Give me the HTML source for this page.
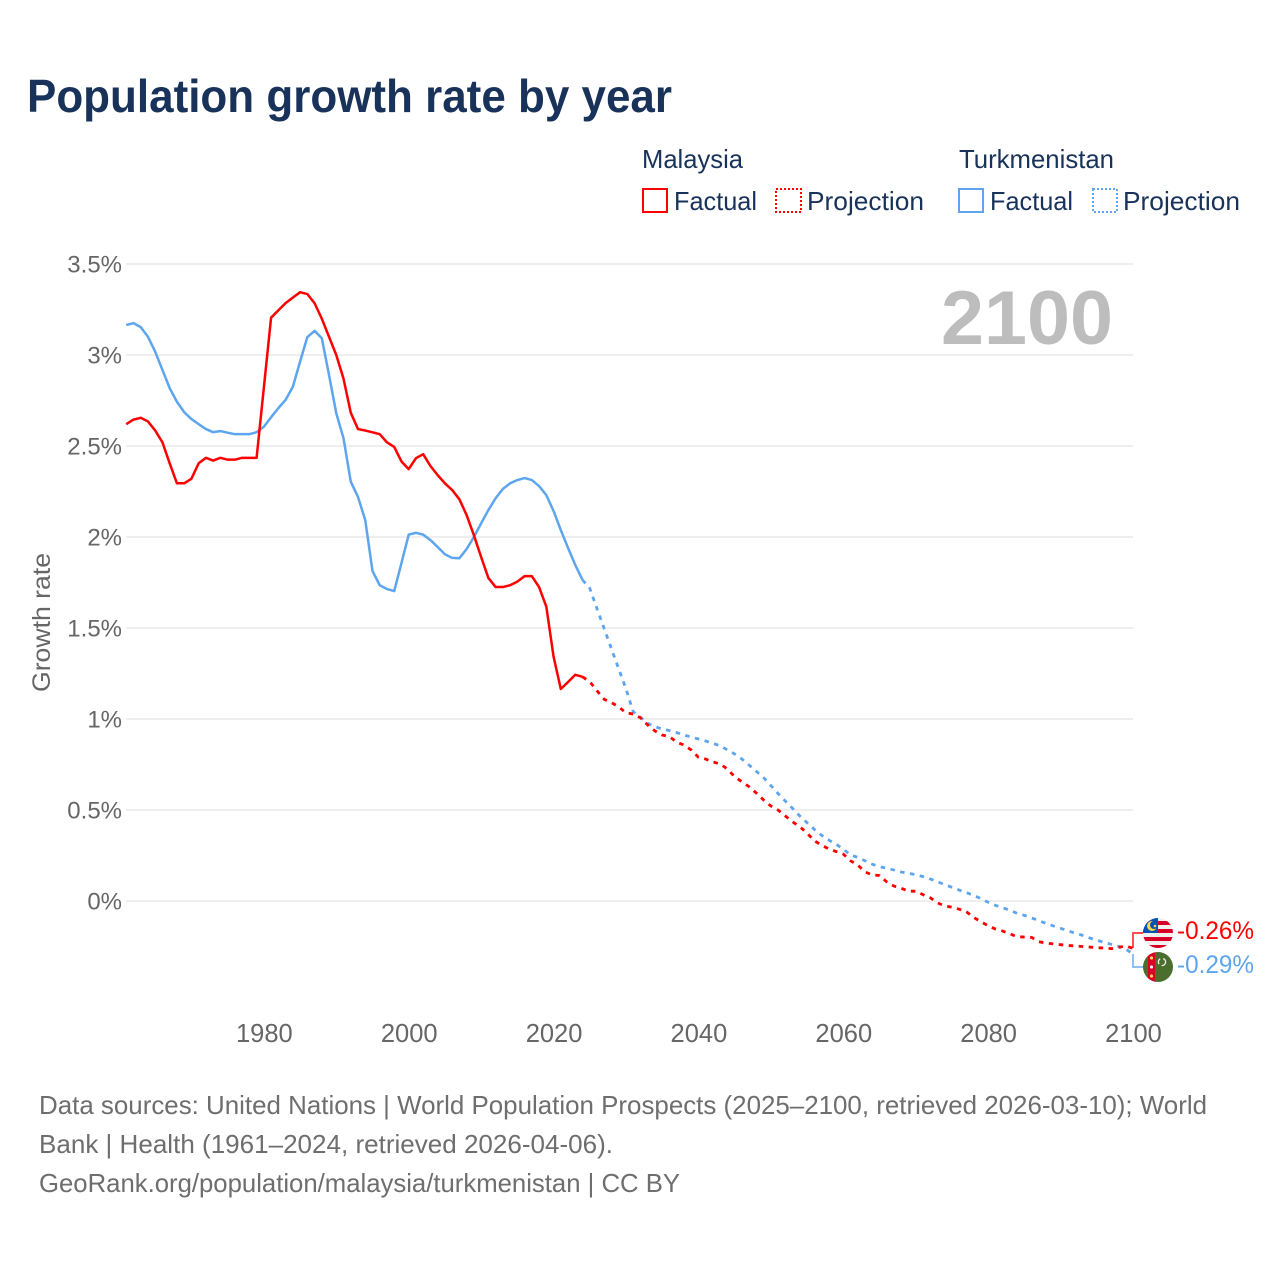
<!DOCTYPE html>
<html lang="en">
<head>
<meta charset="utf-8">
<title>Population growth rate by year</title>
<style>
html,body{margin:0;padding:0;background:#fff;width:1280px;height:1280px;overflow:hidden}
svg{display:block}
text{font-family:"Liberation Sans",sans-serif}
</style>
</head>
<body>
<svg id="chart" width="1280" height="1280" viewBox="0 0 1280 1280" xmlns="http://www.w3.org/2000/svg">
<defs>
<clipPath id="flag-my-clip"><circle cx="1158" cy="933" r="15"/></clipPath>
<clipPath id="flag-tm-clip"><circle cx="1158" cy="967" r="15"/></clipPath>
</defs>
<text x="27" y="112" font-size="46" font-weight="700" fill="#18325a" textLength="645" lengthAdjust="spacingAndGlyphs">Population growth rate by year</text>

<g font-size="26" fill="#18325a">
<text x="642" y="168" textLength="101" lengthAdjust="spacingAndGlyphs">Malaysia</text>
<text x="959" y="168" textLength="155" lengthAdjust="spacingAndGlyphs">Turkmenistan</text>
<rect x="643" y="189" width="24" height="23" fill="none" stroke="#ff0000" stroke-width="2"/>
<text x="674" y="210" textLength="83" lengthAdjust="spacingAndGlyphs">Factual</text>
<rect x="776" y="189" width="25" height="23" fill="none" stroke="#ff0000" stroke-width="2" stroke-dasharray="2 2"/>
<text x="807" y="210" textLength="117" lengthAdjust="spacingAndGlyphs">Projection</text>
<rect x="959" y="189" width="24" height="23" fill="none" stroke="#5da5ee" stroke-width="2"/>
<text x="990" y="210" textLength="83" lengthAdjust="spacingAndGlyphs">Factual</text>
<rect x="1093" y="189" width="24" height="23" fill="none" stroke="#5da5ee" stroke-width="2" stroke-dasharray="2 2"/>
<text x="1123" y="210" textLength="117" lengthAdjust="spacingAndGlyphs">Projection</text>
</g>

<g id="grid"></g>
<g id="yticks"></g>
<g id="xticks"></g>
<text transform="translate(50,692) rotate(-90)" font-size="25" fill="#666666" textLength="139" lengthAdjust="spacingAndGlyphs">Growth rate</text>
<text x="941" y="344" font-size="76" font-weight="700" fill="#bdbdbd" textLength="172" lengthAdjust="spacingAndGlyphs">2100</text>

<g id="series"></g>

<path d="M1133 948V933H1144" fill="none" stroke="#ff0000" stroke-opacity="0.8" stroke-width="1.7"/>
<path d="M1133 954V967H1144" fill="none" stroke="#5da5ee" stroke-opacity="0.8" stroke-width="1.7"/>

<g clip-path="url(#flag-my-clip)">
<rect x="1143" y="918" width="30" height="30" fill="#f0f0f0"/>
<rect x="1143" y="921" width="30" height="4" fill="#d80027"/>
<rect x="1143" y="929" width="30" height="4" fill="#d80027"/>
<rect x="1143" y="937" width="30" height="4" fill="#d80027"/>
<rect x="1143" y="945" width="30" height="4" fill="#d80027"/>
<rect x="1143" y="918" width="15" height="15" fill="#0052b4"/>
<circle cx="1152" cy="926" r="5" fill="#ffda44"/>
<circle cx="1154" cy="925" r="4" fill="#0052b4"/>
<circle cx="1155" cy="926" r="1.3" fill="#ffda44"/>
</g>
<g clip-path="url(#flag-tm-clip)">
<rect x="1143" y="952" width="30" height="30" fill="#496e2d"/>
<rect x="1148" y="952" width="7" height="30" fill="#d80027"/>
<circle cx="1151.5" cy="958" r="1.6" fill="#ffda44"/>
<circle cx="1151.5" cy="967" r="1.6" fill="#f0f0f0"/>
<circle cx="1151.5" cy="976" r="1.6" fill="#ffda44"/>
<circle cx="1162" cy="962" r="3.6" fill="none" stroke="#f0f0f0" stroke-width="1.3" stroke-dasharray="6 3"/>
</g>

<text x="1177" y="939" font-size="25" fill="#ff0000" textLength="77" lengthAdjust="spacingAndGlyphs">-0.26%</text>
<text x="1177" y="973" font-size="25" fill="#5da5ee" textLength="77" lengthAdjust="spacingAndGlyphs">-0.29%</text>

<g font-size="26" fill="#6e6e6e">
<text x="39" y="1114" textLength="1168" lengthAdjust="spacingAndGlyphs">Data sources: United Nations | World Population Prospects (2025–2100, retrieved 2026-03-10); World</text>
<text x="39" y="1153" textLength="574" lengthAdjust="spacingAndGlyphs">Bank | Health (1961–2024, retrieved 2026-04-06).</text>
<text x="39" y="1192" textLength="641" lengthAdjust="spacingAndGlyphs">GeoRank.org/population/malaysia/turkmenistan | CC BY</text>
</g>
</svg>
<script>
const yTickValues = [3.5, 3, 2.5, 2, 1.5, 1, 0.5, 0];
const yTickLabels = ["3.5%", "3%", "2.5%", "2%", "1.5%", "1%", "0.5%", "0%"];
const xTickValues = [1980, 2000, 2020, 2040, 2060, 2080, 2100];
const xTickLabels = ["1980", "2000", "2020", "2040", "2060", "2080", "2100"];

const factualStartYear = 1961;
const projectionStartYear = 2024;

const malaysiaFactual = [
2.62,2.645,2.655,2.635,2.585,2.52,2.405,2.295,2.295,2.32,
2.405,2.435,2.42,2.435,2.425,2.425,2.435,2.435,2.435,2.82,
3.205,3.245,3.285,3.315,3.345,3.335,3.285,3.2,3.10,3.0,
2.87,2.683,2.593,2.585,2.575,2.565,2.52,2.495,2.415,2.373,
2.433,2.455,2.39,2.34,2.295,2.258,2.207,2.12,2.01,1.89,
1.775,1.725,1.725,1.735,1.755,1.785,1.785,1.725,1.617,1.343,
1.165,1.203,1.243,1.232
];
const malaysiaProjection = [
1.232,1.205,1.155,1.108,1.09,1.067,1.034,1.027,1.007,0.967,
0.934,0.912,0.903,0.873,0.857,0.83,0.79,0.78,0.764,0.753,
0.725,0.683,0.655,0.628,0.593,0.555,0.522,0.50,0.467,0.435,
0.408,0.373,0.331,0.307,0.286,0.272,0.258,0.221,0.197,0.16,
0.143,0.14,0.105,0.082,0.07,0.054,0.054,0.035,0.018,-0.01,
-0.027,-0.034,-0.045,-0.059,-0.09,-0.114,-0.136,-0.154,-0.165,-0.181,
-0.196,-0.198,-0.2,-0.224,-0.231,-0.236,-0.24,-0.244,-0.247,-0.25,
-0.253,-0.257,-0.258,-0.262,-0.255,-0.247,-0.26
];
const turkmenistanFactual = [
3.165,3.175,3.153,3.10,3.018,2.918,2.818,2.743,2.686,2.648,
2.62,2.593,2.576,2.582,2.573,2.565,2.565,2.565,2.576,2.606,
2.658,2.708,2.753,2.825,2.963,3.098,3.133,3.093,2.89,2.68,
2.543,2.304,2.22,2.093,1.813,1.735,1.714,1.703,1.857,2.013,
2.023,2.013,1.983,1.945,1.905,1.885,1.883,1.934,2.0,2.075,
2.148,2.213,2.264,2.295,2.313,2.324,2.313,2.28,2.23,2.143,
2.038,1.94,1.846,1.764
];
const turkmenistanProjection = [
1.764,1.718,1.606,1.495,1.385,1.275,1.165,1.04,1.009,0.976,
0.958,0.945,0.936,0.925,0.912,0.901,0.89,0.879,0.866,0.853,
0.83,0.808,0.78,0.747,0.712,0.678,0.634,0.59,0.549,0.509,
0.467,0.43,0.394,0.361,0.335,0.312,0.285,0.253,0.24,0.221,
0.202,0.188,0.18,0.17,0.159,0.152,0.145,0.134,0.121,0.106,
0.09,0.075,0.06,0.046,0.031,0.013,-0.007,-0.024,-0.037,-0.051,
-0.068,-0.079,-0.093,-0.108,-0.123,-0.137,-0.15,-0.163,-0.177,-0.188,
-0.203,-0.216,-0.227,-0.238,-0.249,-0.265,-0.29
];

const SVG_NS = "http://www.w3.org/2000/svg";
function xScale(year) { return 1133 - (2100 - year) * 7.243; }
function yScale(value) { return 901 - value * 182; }
function linePath(startYear, values) {
  return values.map(function (v, i) {
    return (i ? "L" : "M") + xScale(startYear + i).toFixed(2) + " " + yScale(v).toFixed(2);
  }).join("");
}

const gridGroup = document.getElementById("grid");
const yTickGroup = document.getElementById("yticks");
const xTickGroup = document.getElementById("xticks");
const seriesGroup = document.getElementById("series");

yTickValues.forEach(function (value, i) {
  const gridLine = document.createElementNS(SVG_NS, "line");
  
  
  gridLine.setAttribute("x1", xScale(1961));
  gridLine.setAttribute("x2", xScale(2100));
  gridLine.setAttribute("y1", yScale(value));
  gridLine.setAttribute("y2", yScale(value));
  gridLine.setAttribute("stroke", "#e8e8e8");
  gridLine.setAttribute("stroke-width", "1.5");
  gridGroup.appendChild(gridLine);

  const tick = document.createElementNS(SVG_NS, "text");
  
  
  tick.setAttribute("x", 122);
  tick.setAttribute("y", yScale(value) + 8.5);
  tick.setAttribute("text-anchor", "end");
  tick.setAttribute("font-size", "24");
  tick.setAttribute("fill", "#666666");
  tick.textContent = yTickLabels[i];
  yTickGroup.appendChild(tick);
});

xTickValues.forEach(function (year, i) {
  const tick = document.createElementNS(SVG_NS, "text");
  
  
  tick.setAttribute("x", xScale(year) + 0.5);
  tick.setAttribute("y", 1042);
  tick.setAttribute("text-anchor", "middle");
  tick.setAttribute("font-size", "25.5");
  tick.setAttribute("fill", "#666666");
  tick.textContent = xTickLabels[i];
  xTickGroup.appendChild(tick);
});

function addFactual(values, color, name) {
  const line = document.createElementNS(SVG_NS, "path");
  
  
  line.setAttribute("d", linePath(factualStartYear, values));
  line.setAttribute("fill", "none");
  line.setAttribute("stroke", color);
  line.setAttribute("stroke-width", "2.5");
  line.setAttribute("stroke-linejoin", "round");
  seriesGroup.appendChild(line);
}
function addProjection(values, color, name) {
  const line = document.createElementNS(SVG_NS, "path");
  
  
  line.setAttribute("d", linePath(projectionStartYear, values));
  line.setAttribute("fill", "none");
  line.setAttribute("stroke", color);
  line.setAttribute("stroke-width", "2.8");
  line.setAttribute("stroke-dasharray", "4.5 5.5");
  seriesGroup.appendChild(line);
}
addFactual(turkmenistanFactual, "#5da5ee", "turkmenistan-factual-line");
addFactual(malaysiaFactual, "#ff0000", "malaysia-factual-line");
addProjection(turkmenistanProjection, "#5da5ee", "turkmenistan-projection-line");
addProjection(malaysiaProjection, "#ff0000", "malaysia-projection-line");
</script>
</body>
</html>
